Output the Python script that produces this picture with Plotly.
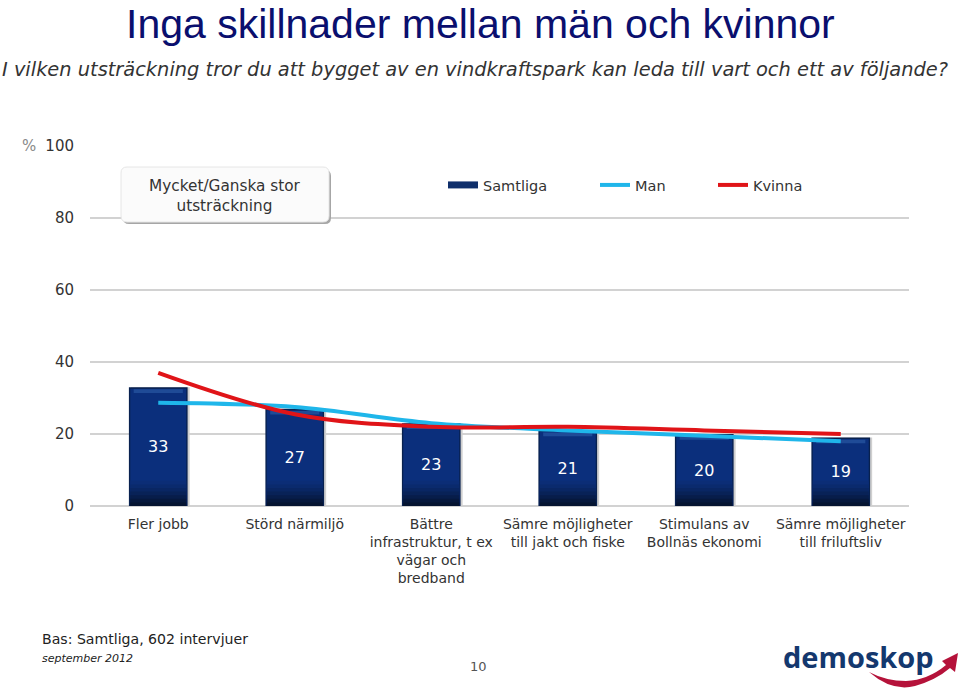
import plotly.graph_objects as go

W, H = 960, 692
PLOT_L, PLOT_R, PLOT_T, PLOT_B = 90, 909, 146, 506

categories = ['Fler jobb', 'Störd närmiljö', 'Bättre<br>infrastruktur, t ex<br>vägar och<br>bredband',
              'Sämre möjligheter<br>till jakt och fiske', 'Stimulans av<br>Bollnäs ekonomi',
              'Sämre möjligheter<br>till friluftsliv']
samtliga = [33, 27, 23, 21, 20, 19]
man = [28.7, 27.5, 23, 21, 19.5, 18]
kvinna = [37, 25.5, 22, 22, 21, 20]
y_ticks = [0, 20, 40, 60, 80, 100]

NAVY = '#0b2f7c'
TEXT = '#333333'
BODY_FONT = 'DejaVu Sans'


def px(x):
    return (x - PLOT_L) / (PLOT_R - PLOT_L)


def py(y):
    return (PLOT_B - y) / (PLOT_B - PLOT_T)


def rounded_box(x0, y0, x1, y1, r):
    return (f'M {px(x0 + r)} {py(y0)} L {px(x1 - r)} {py(y0)} Q {px(x1)} {py(y0)} {px(x1)} {py(y0 + r)} '
            f'L {px(x1)} {py(y1 - r)} Q {px(x1)} {py(y1)} {px(x1 - r)} {py(y1)} '
            f'L {px(x0 + r)} {py(y1)} Q {px(x0)} {py(y1)} {px(x0)} {py(y1 - r)} '
            f'L {px(x0)} {py(y0 + r)} Q {px(x0)} {py(y0)} {px(x0 + r)} {py(y0)} Z')


fig = go.Figure()

# soft shadow, then the bar body
fig.add_trace(go.Bar(x=categories, y=samtliga, width=0.43, offset=-0.2, marker=dict(color='#cfcfcf', line_width=0),
                     showlegend=False, hoverinfo='skip'))
fig.add_trace(go.Bar(x=categories, y=samtliga, width=0.43, marker=dict(color='#08214f', line_width=0),
                     showlegend=False, hoverinfo='skip'))
fig.add_trace(go.Bar(x=categories, y=[v - 0.4 for v in samtliga], width=0.41,
                     marker=dict(color=NAVY, line_width=0), showlegend=False, hoverinfo='skip'))

# bevel highlight along the top of each bar
fig.add_trace(go.Bar(x=categories, y=[1.0] * 6, base=[v - 1.6 for v in samtliga], width=0.36,
                     marker=dict(color='#1f4b97', line_width=0), showlegend=False, hoverinfo='skip'))

# darker bottom of each bar
for band, colour in zip([7, 6, 5, 4, 3, 2, 1], ['#0b2d76', '#0a2a6d', '#092663', '#082257', '#071d4a', '#06183d', '#051431']):
    fig.add_trace(go.Bar(x=categories, y=[band] * 6, width=0.41, marker=dict(color=colour, line_width=0),
                         showlegend=False, hoverinfo='skip'))

fig.add_trace(go.Bar(x=categories, y=samtliga, width=0.43, marker=dict(color='rgba(0,0,0,0)', line_width=0),
                     text=[str(v) for v in samtliga], textposition='inside', insidetextanchor='middle',
                     textangle=0, constraintext='none', textfont=dict(color='white', size=16, family=BODY_FONT),
                     showlegend=False, hoverinfo='skip'))

fig.add_trace(go.Scatter(x=categories, y=[None] * 6, mode='lines', name='Samtliga', legend='legend',
                         line=dict(color='#0f2f6b', width=7)))
fig.add_trace(go.Scatter(x=categories, y=man, mode='lines', name='Man', legend='legend2',
                         line=dict(color='#1fb6ea', width=4, shape='spline', smoothing=1)))
fig.add_trace(go.Scatter(x=categories, y=kvinna, mode='lines', name='Kvinna', legend='legend3',
                         line=dict(color='#e01418', width=4, shape='spline', smoothing=1)))

shapes = [
    dict(type='path', xref='paper', yref='paper', path=rounded_box(123, 170, 331, 224, 6),
         fillcolor='#a6a6a6', line_width=0, layer='above'),
    dict(type='path', xref='paper', yref='paper', path=rounded_box(121, 167, 329, 222, 6),
         fillcolor='#fbfbfb', line=dict(color='#e6e6e6', width=1), layer='above'),
    # logo swoosh and arrow head
    dict(type='path', xref='paper', yref='paper', line_width=0, fillcolor='#b5123a', layer='above',
         path=(f'M {px(869)} {py(672)} Q {px(892)} {py(692)} {px(915)} {py(686)} '
               f'Q {px(936)} {py(680)} {px(950)} {py(668)} L {px(955)} {py(672)} L {px(958)} {py(653)} '
               f'L {px(942)} {py(661)} L {px(946)} {py(665)} Q {px(928)} {py(680)} {px(906)} {py(681)} '
               f'Q {px(886)} {py(681)} {px(869)} {py(672)} Z')),
]

annotations = [
    dict(x=px(480), y=py(24), text='Inga skillnader mellan män och kvinnor', showarrow=False,
         font=dict(family='Liberation Sans', size=41, color='#0a0f6e')),
    dict(x=px(475), y=py(69), text='<i>I vilken utsträckning tror du att bygget av en vindkraftspark kan leda till vart och ett av följande?</i>',
         showarrow=False, font=dict(family=BODY_FONT, size=19.4, color=TEXT)),
    dict(x=px(29), y=py(146), text='%', showarrow=False, font=dict(family=BODY_FONT, size=15, color='#8a8a8a')),
    dict(x=px(225), y=py(196), text='Mycket/Ganska stor<br>utsträckning', showarrow=False,
         font=dict(family=BODY_FONT, size=15.3, color=TEXT)),
    dict(x=px(40), y=py(639), text='Bas: Samtliga, 602 intervjuer', showarrow=False, xanchor='left',
         font=dict(family=BODY_FONT, size=14.1, color='#222222')),
    dict(x=px(40), y=py(658), text='<i>september 2012</i>', showarrow=False, xanchor='left',
         font=dict(family=BODY_FONT, size=11, color='#222222')),
    dict(x=px(478), y=py(666), text='10', showarrow=False, font=dict(family=BODY_FONT, size=13, color='#555555')),
    dict(x=px(858), y=py(656), text='<b>demoskop</b>', showarrow=False,
         font=dict(family='Open Sans', size=29, color='#14386e')),
]
for a in annotations:
    a.update(xref='paper', yref='paper', yanchor='middle')
    a.setdefault('xanchor', 'center')


def legend_at(x):
    return dict(x=px(x), y=py(185), xanchor='left', yanchor='middle', bgcolor='rgba(0,0,0,0)',
                font=dict(size=14.5, color=TEXT), itemwidth=30)


fig.update_layout(
    width=W, height=H, margin=dict(l=PLOT_L, r=W - PLOT_R, t=PLOT_T, b=H - PLOT_B, autoexpand=False),
    paper_bgcolor='white', plot_bgcolor='white', barmode='overlay',
    font=dict(family=BODY_FONT, color=TEXT, size=14),
    shapes=shapes, annotations=annotations,
    legend=legend_at(443), legend2=legend_at(595), legend3=legend_at(713),
)
fig.update_xaxes(range=[-0.5, 5.5], type='category', categoryorder='array', categoryarray=categories,
                 showgrid=False, showline=False, zeroline=False, ticks='outside', ticklen=5, tickcolor='white',
                 tickangle=0, tickfont=dict(size=14, color=TEXT))
fig.update_yaxes(range=[0, 100], tickvals=y_ticks, showgrid=True, gridcolor='#d2d2d2', gridwidth=1.5,
                 zeroline=True, zerolinecolor='#d2d2d2', zerolinewidth=1.5, showline=False,
                 ticks='outside', ticklen=12, tickcolor='white', tickfont=dict(size=15, color=TEXT))

fig.write_html("out.html", config={'displayModeBar': False},
               post_script="document.body.style.margin='0';document.body.style.overflow='hidden';")
